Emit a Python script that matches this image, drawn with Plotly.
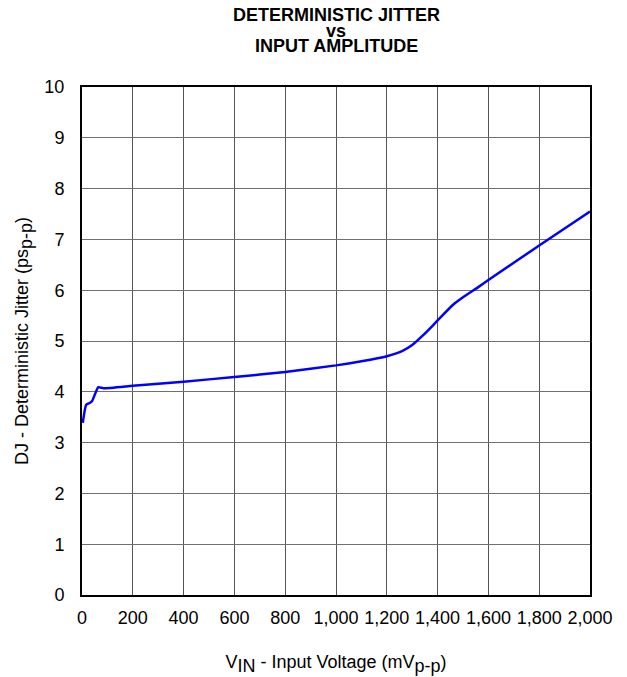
import plotly.graph_objects as go

vin_mv = [3, 16, 30, 40, 64, 84, 200, 400, 600, 800, 1000, 1100, 1200, 1260, 1300,
          1340, 1380, 1420, 1460, 1500, 1560, 1600, 1800, 2000]
dj_ps = [3.39, 3.74, 3.78, 3.82, 4.09, 4.07, 4.12, 4.20, 4.29, 4.39, 4.52, 4.60, 4.70,
         4.80, 4.92, 5.10, 5.30, 5.51, 5.71, 5.86, 6.06, 6.20, 6.88, 7.55]

x_ticks = list(range(0, 2001, 200))
y_ticks = list(range(0, 11))

FONT = "Liberation Sans, Arial, sans-serif"


def sub(t):
    return f"<sub><span style='font-size:18px'>{t}</span></sub>"


fig = go.Figure()
fig.add_trace(go.Scatter(x=vin_mv, y=dj_ps, mode="lines",
                         line=dict(color="#0000ff", width=2.5, shape="spline", smoothing=0.4),
                         showlegend=False, hoverinfo="skip"))

fig.update_layout(
    width=627, height=677,
    margin=dict(l=74, r=45, t=79, b=90),
    paper_bgcolor="white", plot_bgcolor="white",
    font=dict(family=FONT, color="black", size=18),
)

fig.update_xaxes(range=[0, 2000], tickvals=x_ticks, tickformat=",",
                 showgrid=True, gridcolor="#555555", gridwidth=1,
                 showline=True, linecolor="black", linewidth=2, mirror=True,
                 ticks="", zeroline=False, tickfont=dict(size=18), ticklabelstandoff=5,
                 automargin=False,
                 title=dict(text="V" + sub("IN") + " - Input Voltage (mV" + sub("p-p") + ")",
                            font=dict(size=18), standoff=29))
fig.update_yaxes(range=[0, 10], tickvals=y_ticks,
                 showgrid=True, gridcolor="#707070", gridwidth=1,
                 showline=True, linecolor="black", linewidth=2, mirror=True,
                 ticks="", zeroline=False, tickfont=dict(size=18), ticklabelstandoff=12,
                 automargin=False,
                 title=dict(text="DJ - Deterministic Jitter (ps" + sub("p-p") + ")",
                            font=dict(size=18), standoff=11))

title_lines = [("DETERMINISTIC JITTER", 15), ("vs", 31), ("INPUT AMPLITUDE", 46)]
for txt, py in title_lines:
    fig.add_annotation(text=f"<b>{txt}</b>", x=0.5, xref="paper",
                       y=(595 - py) / 508, yref="paper", yanchor="middle",
                       showarrow=False, font=dict(size=18, family=FONT))

fig.write_html("out.html")
